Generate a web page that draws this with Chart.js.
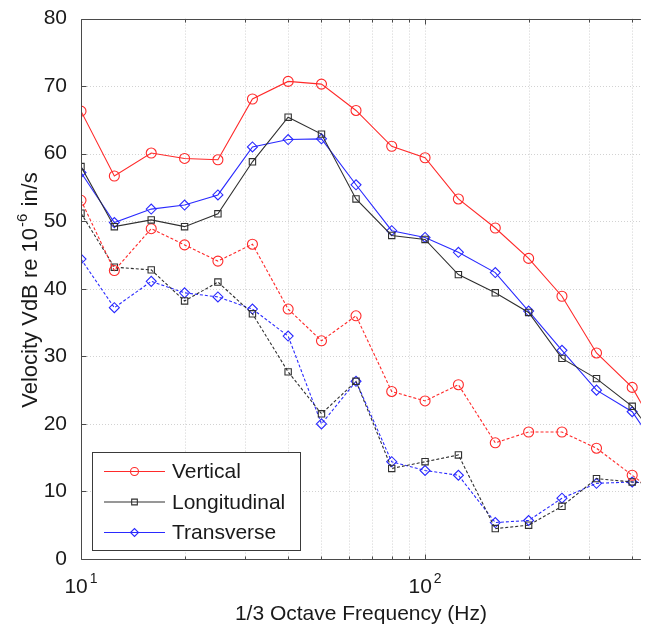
<!DOCTYPE html>
<html><head><meta charset="utf-8">
<script src="https://cdn.jsdelivr.net/npm/chart.js@4.4.1/dist/chart.umd.min.js"></script>
<style>html,body{margin:0;padding:0;background:#fff}canvas{display:block}</style>
</head><body>
<canvas id="c" width="647" height="629"></canvas>
<script>
// 1/3 octave band centre frequencies (Hz)
const freqs = [10, 12.5, 16, 20, 25, 31.5, 40, 50, 63, 80, 100, 125, 160, 200, 250, 315, 400, 500];
// solid curves
const verticalA     = [66.3, 56.7, 60.1, 59.3, 59.1, 68.1, 70.7, 70.3, 66.4, 61.1, 59.4, 53.3, 49.0, 44.5, 38.9, 30.5, 25.4, 16.7];
const longitudinalA = [58.1, 49.2, 50.2, 49.2, 51.1, 58.8, 65.4, 62.9, 53.3, 47.9, 47.3, 42.1, 39.4, 36.5, 29.7, 26.7, 22.6, 16.0];
const transverseA   = [57.2, 49.8, 51.8, 52.4, 53.9, 61.0, 62.1, 62.2, 55.4, 48.6, 47.6, 45.4, 42.4, 36.7, 30.9, 25.0, 21.8, 14.6];
// dashed curves
const verticalB     = [53.1, 42.7, 48.9, 46.5, 44.1, 46.6, 37.0, 32.3, 36.0, 24.8, 23.4, 25.8, 17.2, 18.8, 18.8, 16.4, 12.4, 8.7];
const longitudinalB = [51.2, 43.2, 42.8, 38.2, 41.0, 36.3, 27.7, 21.5, 26.3, 13.4, 14.4, 15.4, 4.5, 5.0, 7.8, 11.9, 11.4, 11.0];
const transverseB   = [44.4, 37.2, 41.1, 39.4, 38.8, 37.0, 33.0, 20.0, 26.3, 14.4, 13.1, 12.4, 5.4, 5.7, 9.0, 11.2, 11.4, 11.0];

const seriesNames = ['Vertical', 'Longitudinal', 'Transverse'];
const xGrid = [10, 20, 30, 40, 50, 60, 70, 80, 90, 100, 200, 300, 400];
const xMajor = [10, 100];
const xMajorExp = ['1', '2'];
const yTicks = [0, 10, 20, 30, 40, 50, 60, 70, 80];
const xTitle = '1/3 Octave Frequency (Hz)';
const yTitleParts = ['Velocity VdB re 10', '-6', ' in/s'];

const FONT = '"Liberation Sans", Arial, Helvetica, sans-serif';
const RED = '#ff2a2a', BLACK = '#303030', BLUE = '#2a2aff';

function pts(arr){ return freqs.map((f,i)=>({x:f, y:arr[i]})); }
function ds(label, data, color, style, radius, dashed){
  return {label, data: pts(data), borderColor: color, backgroundColor: color,
    borderWidth: 1.1, borderDash: dashed ? [3,2] : [], pointStyle: style, pointRadius: radius,
    pointBorderColor: color, pointBackgroundColor: 'rgba(0,0,0,0)', pointBorderWidth: 1.1,
    pointHoverRadius: radius, tension: 0, fill: false};
}

const decor = {
  id: 'decor',
  beforeDatasetsDraw(chart){
    const {ctx, chartArea: a, scales: {x, y}} = chart;
    ctx.save();
    ctx.strokeStyle = '#d2d2d2'; ctx.lineWidth = 1; ctx.setLineDash([1, 2]);
    xGrid.forEach(v => {
      const px = Math.round(x.getPixelForValue(v)) + 0.5;
      if (px <= a.left + 1 || px > a.right) return;
      ctx.beginPath(); ctx.moveTo(px, a.top); ctx.lineTo(px, a.bottom); ctx.stroke();
    });
    yTicks.forEach(v => {
      const py = Math.round(y.getPixelForValue(v)) + 0.5;
      if (py <= a.top + 1 || py >= a.bottom - 1) return;
      ctx.beginPath(); ctx.moveTo(a.left, py); ctx.lineTo(a.right, py); ctx.stroke();
    });
    ctx.restore();
  },
  afterDatasetsDraw(chart){
    const {ctx, chartArea: a, scales: {x, y}} = chart;
    ctx.save();
    ctx.setLineDash([]);
    ctx.strokeStyle = '#4a4a4a'; ctx.lineWidth = 1;
    const L = Math.round(a.left) + 0.5, T = Math.round(a.top) + 0.5, B = Math.round(a.bottom) + 0.5, R = a.right;
    ctx.beginPath();
    ctx.moveTo(R, T); ctx.lineTo(L, T); ctx.lineTo(L, B); ctx.lineTo(R, B);
    ctx.stroke();
    // ticks
    ctx.beginPath();
    xGrid.forEach(v => {
      const px = Math.round(x.getPixelForValue(v)) + 0.5;
      if (px > a.right) return;
      const len = xMajor.includes(v) ? 5 : 3;
      ctx.moveTo(px, B); ctx.lineTo(px, B - len);
      ctx.moveTo(px, T); ctx.lineTo(px, T + len);
    });
    yTicks.forEach(v => {
      const py = Math.round(y.getPixelForValue(v)) + 0.5;
      ctx.moveTo(L, py); ctx.lineTo(L + 5, py);
    });
    ctx.stroke();

    // x major tick labels with superscript
    ctx.fillStyle = '#1a1a1a';
    xMajor.forEach((v, i) => {
      const px = x.getPixelForValue(v);
      ctx.font = '21px ' + FONT;
      const w1 = ctx.measureText('10').width;
      ctx.font = '14px ' + FONT;
      const w2 = ctx.measureText(xMajorExp[i]).width;
      const start = px - (w1 + w2 + 2) / 2;
      ctx.textBaseline = 'alphabetic'; ctx.textAlign = 'left';
      ctx.font = '21px ' + FONT;
      ctx.fillText('10', start, 593);
      ctx.font = '14px ' + FONT;
      ctx.fillText(xMajorExp[i], start + w1 + 2, 583);
    });

    // x title
    ctx.font = '21px ' + FONT; ctx.textAlign = 'center'; ctx.textBaseline = 'alphabetic';
    ctx.fillText(xTitle, (a.left + a.right) / 2, 620);

    // y title (rotated, with superscript)
    ctx.save();
    ctx.translate(37, 290);
    ctx.rotate(-Math.PI / 2);
    ctx.textAlign = 'left';
    ctx.font = '22px ' + FONT;
    const p1 = ctx.measureText(yTitleParts[0]).width;
    const p3 = ctx.measureText(yTitleParts[2]).width;
    ctx.font = '15px ' + FONT;
    const p2 = ctx.measureText(yTitleParts[1]).width;
    let sx = -(p1 + p2 + p3 + 2) / 2;
    ctx.font = '22px ' + FONT; ctx.fillText(yTitleParts[0], sx, 0);
    ctx.font = '15px ' + FONT; ctx.fillText(yTitleParts[1], sx + p1 + 1, -10);
    ctx.font = '22px ' + FONT; ctx.fillText(yTitleParts[2], sx + p1 + p2 + 2, 0);
    ctx.restore();

    // legend
    const bx = 92.5, by = 452.5, bw = 208, bh = 98;
    ctx.fillStyle = '#ffffff'; ctx.fillRect(bx, by, bw, bh);
    ctx.strokeStyle = '#3a3a3a'; ctx.lineWidth = 1; ctx.strokeRect(bx, by, bw, bh);
    const items = chart.data.datasets.slice(0, 3);
    items.forEach((d, i) => {
      const cy = 471.5 + i * 30.5;
      ctx.strokeStyle = d.borderColor; ctx.lineWidth = 1.1;
      ctx.beginPath(); ctx.moveTo(104, cy); ctx.lineTo(165, cy); ctx.stroke();
      ctx.fillStyle = 'rgba(0,0,0,0)';
      Chart.helpers.drawPoint(ctx, {pointStyle: d.pointStyle, radius: 4, borderWidth: 1.1, rotation: 0}, 134.5, cy);
      ctx.fillStyle = '#1a1a1a'; ctx.font = '21px ' + FONT;
      ctx.textAlign = 'left'; ctx.textBaseline = 'middle';
      ctx.fillText(seriesNames[i], 172, cy + 1);
    });
    ctx.restore();
  }
};

new Chart(document.getElementById('c'), {
  type: 'line',
  data: {
    datasets: [
      ds(seriesNames[0], verticalA, RED, 'circle', 5, false),
      ds(seriesNames[1], longitudinalA, BLACK, 'rect', 4.5, false),
      ds(seriesNames[2], transverseA, BLUE, 'rectRot', 5, false),
      ds(seriesNames[0] + ' (2)', verticalB, RED, 'circle', 5, true),
      ds(seriesNames[1] + ' (2)', longitudinalB, BLACK, 'rect', 4.5, true),
      ds(seriesNames[2] + ' (2)', transverseB, BLUE, 'rectRot', 5, true)
    ]
  },
  options: {
    responsive: false, animation: false, devicePixelRatio: 1,
    layout: {padding: {top: 15, right: 0, left: 0, bottom: 0}},
    plugins: {legend: {display: false}, tooltip: {enabled: false}},
    scales: {
      x: {type: 'logarithmic', min: 10, max: 424,
          grid: {display: false}, border: {display: false},
          ticks: {display: false},
          afterFit(s){ s.height = 70; }},
      y: {type: 'linear', min: 0, max: 80,
          grid: {display: false}, border: {display: false},
          afterBuildTicks(s){ s.ticks = yTicks.map(v => ({value: v})); },
          ticks: {color: '#1a1a1a', font: {size: 21, family: FONT}, padding: 6},
          afterFit(s){ s.width = 81; }}
    }
  },
  plugins: [decor]
});
</script>
</body></html>
